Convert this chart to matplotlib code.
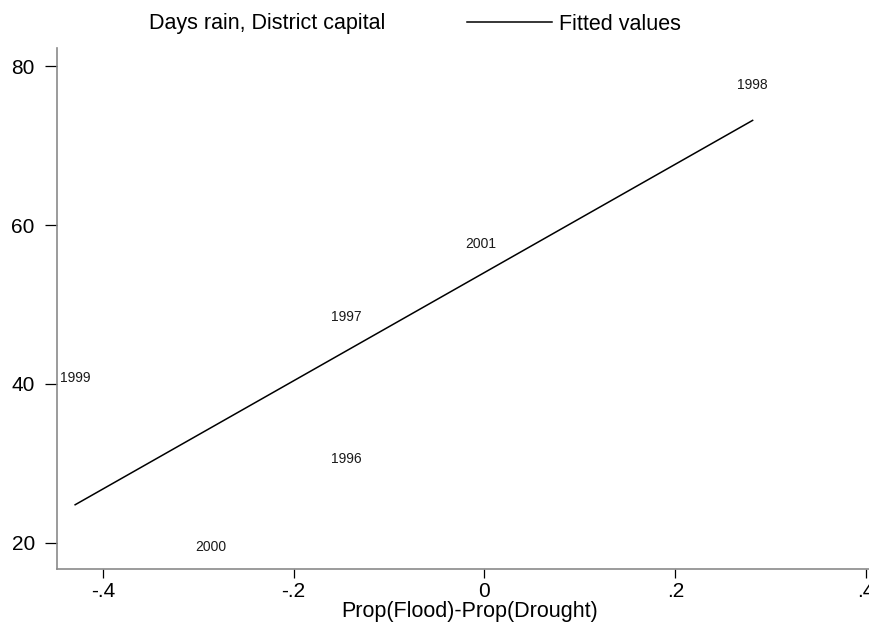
import numpy as np
from matplotlib import pyplot as plt
from matplotlib.lines import Line2D

# values
years = ['1998', '2001', '1997', '1999', '1996', '2000']
flood_minus_drought = [0.281, -0.004, -0.145, -0.429, -0.145, -0.287]
days_rain = [77.6, 57.6, 48.4, 40.8, 30.6, 19.5]

x_ticks = [-0.4, -0.2, 0.0, 0.2, 0.4]
x_tick_labels = ['-.4', '-.2', '0', '.2', '.4']
y_ticks = [20, 40, 60, 80]

plt.rcParams['font.family'] = ['Liberation Sans', 'DejaVu Sans']

fig = plt.figure(figsize=(8.7, 6.22), dpi=100)
ax = fig.add_axes([57 / 870, 1 - 569 / 622, 1 - 57 / 870, (569 - 48) / 622])

x = np.array(flood_minus_drought)
y = np.array(days_rain)

# year labels used as markers, centred on the point
for xi, yi, lab in zip(x, y, years):
    ax.text(xi, yi, lab, fontsize=10, ha='center', va='center', color='#1a1a1a')

# linear fit over the data range
slope, intercept = np.polyfit(x, y, 1)
xs = np.array([x.min(), x.max()])
ax.plot(xs, intercept + slope * xs, color='black', linewidth=1.1)

ax.set_xlim(-0.448, 0.404)
ax.set_ylim(16.7, 82.3)
ax.set_xticks(x_ticks)
ax.set_xticklabels(x_tick_labels)
ax.set_yticks(y_ticks)

for side in ['top', 'right']:
    ax.spines[side].set_visible(False)
for side in ['left', 'bottom']:
    ax.spines[side].set_color('#8a8a8a')
    ax.spines[side].set_linewidth(1.2)

ax.tick_params(axis='y', direction='out', length=9, width=0.9, pad=7, labelsize=15)
ax.tick_params(axis='x', direction='out', length=6.5, width=0.9, pad=3, labelsize=15)

ax.set_xlabel('Prop(Flood)-Prop(Drought)', fontsize=15.5)
ax.xaxis.set_label_coords((470 - 57) / (870 - 57), -0.061)

handles = [Line2D([], [], linestyle='none'),
           Line2D([], [], color='black', linewidth=1.1)]
fig.legend(handles, ['Days rain, District capital', 'Fitted values'],
           loc='center left', bbox_to_anchor=(57 / 870, 1 - 24 / 622),
           ncol=2, frameon=False, fontsize=15.5, handlelength=3.95,
           handletextpad=0.33, columnspacing=3.8, borderpad=0, borderaxespad=0)

plt.savefig('out.png', dpi=100)
plt.close()
